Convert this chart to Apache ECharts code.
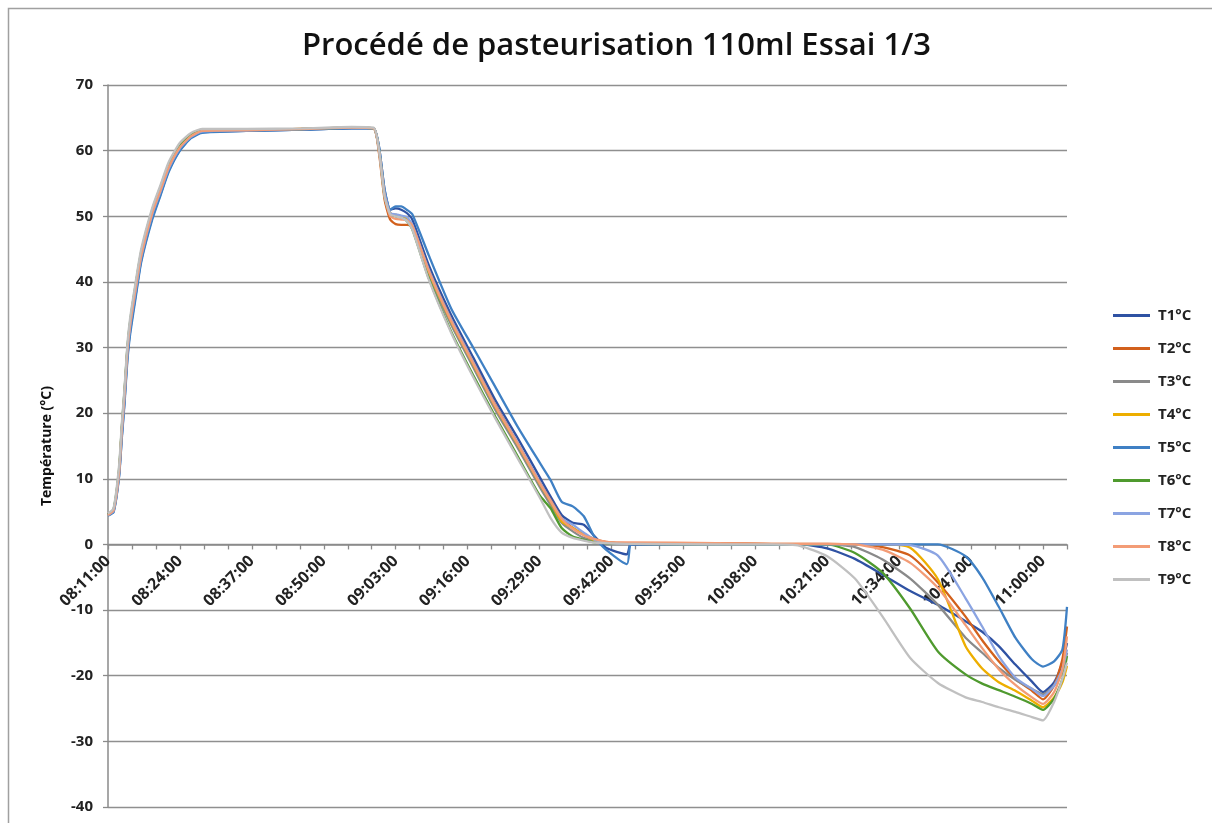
<!DOCTYPE html>
<html><head><meta charset="utf-8">
<script src="https://cdn.jsdelivr.net/npm/echarts@6/dist/echarts.min.js"></script>
<style>html,body{margin:0;padding:0;background:#fff}#c{width:1212px;height:823px}</style>
</head><body><div id="c"></div>
<script>
// Sample times (hh:mm:ss)
const times = ['08:11:00','08:12:00','08:13:00','08:13:30','08:14:00','08:14:30','08:15:00','08:16:00','08:17:00','08:19:00',
'08:20:30','08:22:00','08:24:00','08:26:00','08:28:00','08:36:00','08:46:00','08:55:00','08:59:00',
'09:00:00','09:01:00','09:02:00','09:03:00','09:04:00','09:05:00','09:06:00',
'09:09:00','09:13:00','09:17:00','09:21:00','09:25:00','09:29:00','09:31:00','09:33:00','09:35:00','09:37:00','09:39:00','09:41:00','09:44:48','09:45:24','09:46:00',
'10:01:00','10:11:00',
'10:16:00','10:21:00','10:26:00','10:31:00','10:36:00','10:41:00','10:46:00','10:49:00','10:52:00','10:55:00','10:58:00','11:00:00','11:02:00','11:03:30','11:04:20'];

const tickLabels = ['08:11:00','08:24:00','08:37:00','08:50:00','09:03:00','09:16:00','09:29:00','09:42:00','09:55:00','10:08:00','10:21:00','10:34:00','10:47:00','11:00:00'];

const T1 = [4.5,5.0,10.5,16.5,22,28.5,32.5,38,43.3,49.8,53.4,57,60.1,62,62.8,63.0,63.2,63.4,63.4,
60.5,54,51,51.2,51,50.5,49.5,
42.5,35,28.5,22,16.3,10.3,7.3,4.5,3.3,3.0,1.2,-0.5,-1.5,0,0,
0,0,
0,-0.6,-2.2,-4.6,-7.1,-9.2,-11.7,-13.3,-15.5,-18.3,-20.9,-22.5,-21,-18,-15];
const T2 = [4.5,5.2,11,17.5,23,29.5,33.5,39,44,50.5,54,57.5,60.5,62.2,63,63.1,63.3,63.5,63.4,
59.5,52.5,49.5,48.8,48.7,48.7,48.5,
41.8,34.3,27.8,21.3,15.5,9.5,6.8,4.0,2.5,1.5,0.8,0.4,0.2,0.2,0.2,
0.2,0.1,
0.1,0.1,0,-0.4,-1.7,-5.8,-11,-14.6,-17.8,-20.5,-22.3,-23.6,-21.5,-17.5,-12.5];
const T3 = [4.6,5.3,11.3,17.8,23.4,29.8,33.8,39.4,44.4,50.8,54.3,57.8,60.8,62.4,63.1,63.2,63.3,63.5,63.4,
60,53.5,50.5,50.2,50,49.8,48.5,
41,33.5,27,20.5,14.8,8.8,6.0,3.3,2.0,1.0,0.5,0.3,0.1,0.1,0.1,
0,0,
0,0,-0.4,-2.3,-5.2,-9.2,-14.2,-16.5,-18.8,-20.6,-22,-22.8,-21.5,-19.5,-16.5];
const T4 = [4.5,5.2,11,17.5,23,29.5,33.5,39,44,50.5,54,57.5,60.5,62.2,63,63.1,63.3,63.5,63.4,
60,53.5,50.5,50.2,50,49.8,48.5,
41.5,34,27.5,21,15.3,9.3,6.5,3.5,2.5,1.5,0.6,0.3,0.1,0.1,0.1,
0,0,
0,0,0,0,-0.5,-5.3,-15.5,-18.9,-21,-22.3,-23.8,-24.8,-23.3,-21,-18.5];
const T5 = [4.4,4.9,10.3,16.2,21.6,28,32,37.6,43,49.5,53.2,56.8,60,61.9,62.7,63.0,63.2,63.4,63.4,
60.5,54,51,51.5,51.5,51,50.3,
44,36,30,24,18,12.5,9.8,6.5,5.8,4.3,1,-0.8,-3.0,0,0,
0,0,
0,0,0,0,0,0,-1.8,-5,-9.5,-14.2,-17.5,-18.6,-17.8,-16,-9.5];
const T6 = [4.6,5.3,11.5,18,23.6,30,34,39.6,44.6,51,54.5,58,60.9,62.5,63.2,63.2,63.3,63.5,63.4,
60,53,50.3,50,49.8,49.3,48,
40.5,32.5,25.8,19.5,13.5,7.5,5.5,2.5,1.2,0.7,0.3,0.2,0.1,0.1,0.1,
0,0,
0,0,-1.3,-4.3,-9.8,-16.3,-19.8,-21.2,-22.2,-23.2,-24.3,-25.2,-23.5,-20.5,-17];
const T7 = [4.5,5.1,10.8,17.2,22.7,29.2,33.2,38.7,43.8,50.3,53.8,57.3,60.4,62.1,62.9,63.1,63.3,63.5,63.4,
60,53.5,50.5,50.3,50.1,49.9,48.7,
41.8,34.3,27.8,21.2,15.5,9.5,6.7,4.0,3.0,1.8,0.7,0.3,0.1,0.1,0.1,
0,0,
0,0,0,0,-0.1,-1.7,-8.2,-12.5,-17,-20.3,-22,-23.1,-21.5,-19,-16];
const T8 = [4.5,5.2,11,17.5,23,29.5,33.5,39,44,50.5,54,57.5,60.5,62.2,63,63.1,63.3,63.5,63.4,
59.8,53,50,49.6,49.5,49.4,48.6,
41.6,34.1,27.6,21.1,15.4,9.4,6.6,3.9,2.4,1.4,0.8,0.4,0.3,0.3,0.3,
0.2,0.1,
0.1,0.1,0,-0.8,-2.8,-6.6,-12.3,-15.8,-19,-21.4,-23.3,-24.3,-22.5,-19,-14];
const T9 = [4.7,5.5,12,18.5,24,30.5,34.5,40,45,51.3,54.8,58.3,61.2,62.7,63.3,63.3,63.4,63.6,63.5,
60,53,50.3,50,49.8,49.3,48,
40.3,32.3,25.5,19.2,13.2,7.2,4,1.8,1.0,0.6,0.3,0.2,0.1,0.1,0.1,
0,0,
-0.2,-1.8,-5.2,-11,-17.3,-21.1,-23.3,-24,-24.8,-25.5,-26.3,-26.8,-24,-20.5,-18];

const seriesNames = ['T1°C','T2°C','T3°C','T4°C','T5°C','T6°C','T7°C','T8°C','T9°C'];
const seriesData = [T1,T2,T3,T4,T5,T6,T7,T8,T9];
const colors = ['#2f52a3','#d2601c','#8a8a8a','#edae00','#3f80c4','#4f9a2e','#8ba4e2','#f39c76','#c0c0c0'];

const startMin = 8*60+11;
const toMin = s => { const p = s.split(':').map(Number); return p[0]*60 + p[1] + p[2]/60 - startMin; };
const mins = times.map(toMin);

const W = 1212, H = 823;
const gridTop = 85, gridBottom = 16;
const yMin = -40, yMax = 70;
const plotH = H - gridTop - gridBottom;
const zeroOffset = -plotH * (0 - yMin) / (yMax - yMin); // move x axis up to y = 0

const FONT = 'Open Sans';
const chart = echarts.init(document.getElementById('c'));
chart.setOption({
  animation: false,
  backgroundColor: '#fff',
  color: colors,
  graphic: [{type:'rect', shape:{x:8.5,y:8.5,width:1300,height:900}, style:{fill:'none',stroke:'#a0a0a0',lineWidth:1.5}, z:-1}],
  title: {
    text: 'Procédé de pasteurisation 110ml Essai 1/3',
    left: 297, top: 26,
    textStyle: {fontFamily: FONT, fontSize: 31, fontWeight: 600, color: '#111'}
  },
  legend: {
    orient: 'vertical', left: 1113, top: 308, itemWidth: 37, itemHeight: 3, itemGap: 18, icon: 'rect', padding: 0,
    data: seriesNames,
    textStyle: {fontFamily: FONT, fontSize: 15, fontWeight: 700, color: '#222', padding: [0,0,0,3]}
  },
  grid: {left: 108, right: 145, top: gridTop, bottom: gridBottom, containLabel: false, outerBoundsMode: 'none'},
  xAxis: {
    type: 'value', min: 0, max: 520/3, interval: 13/3,
    offset: zeroOffset,
    axisLine: {onZero: false, lineStyle: {color: '#8a8a8a', width: 1.5}},
    axisTick: {show: true, length: 5, lineStyle: {color: '#8a8a8a', width: 1.3}},
    splitLine: {show: false},
    axisLabel: {
      rotate: 45, margin: 14, fontFamily: FONT, fontSize: 16, fontWeight: 700, color: '#222',
      showMinLabel: true, showMaxLabel: true,
      formatter: v => { const k = v/13, r = Math.round(k); return (Math.abs(k-r) < 1e-6 && tickLabels[r]) ? tickLabels[r] : ''; }
    }
  },
  yAxis: {
    type: 'value', min: yMin, max: yMax, interval: 10,
    name: 'Température (°C)', nameLocation: 'middle', nameGap: 54,
    nameTextStyle: {fontFamily: FONT, fontSize: 14, fontWeight: 700, color: '#111'},
    axisLine: {show: true, onZero: false, lineStyle: {color: '#8a8a8a', width: 1.5}},
    axisTick: {show: true, length: 5, lineStyle: {color: '#8a8a8a', width: 1.3}},
    splitLine: {show: true, lineStyle: {color: '#8f8f8f', width: 1.4}},
    axisLabel: {margin: 15, fontFamily: FONT, fontSize: 15, fontWeight: 700, color: '#222'}
  },
  series: seriesData.map((arr, i) => ({
    name: seriesNames[i], type: 'line', showSymbol: false, smooth: 0.2,
    lineStyle: {width: 2.3, color: colors[i]},
    itemStyle: {color: colors[i]},
    data: arr.map((v, j) => [mins[j], v])
  }))
});
</script>
</body></html>
